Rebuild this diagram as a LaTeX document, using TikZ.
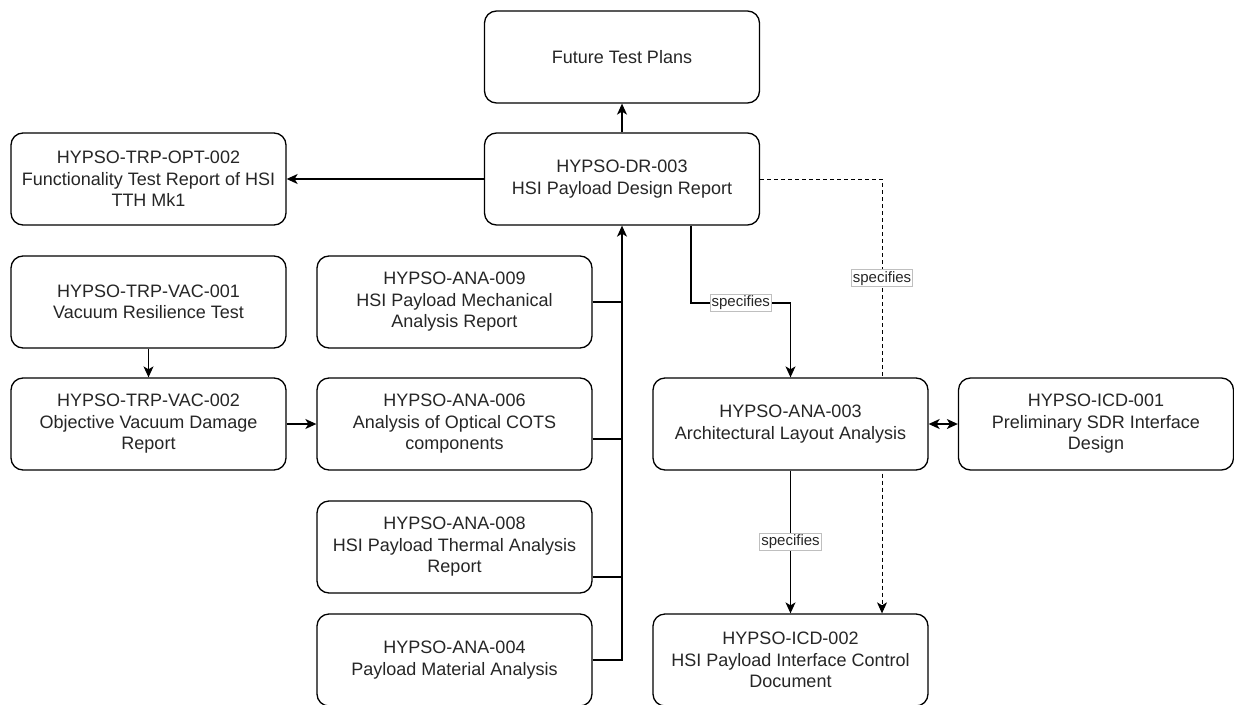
\documentclass[tikz,border=0pt]{standalone}
\usepackage{fontspec}
\setmainfont{Liberation Sans}
\usetikzlibrary{arrows.meta}

\begin{document}
\begin{tikzpicture}[x=1pt, y=-1pt, >={Stealth[length=11pt,width=10pt,inset=3pt]},
    doc/.style={draw, line width=1.3pt, rounded corners=12pt, fill=white, minimum width=275pt, minimum height=92pt, align=center, text=black!85, font=\fontsize{18}{21.5}\selectfont},
    link/.style={line width=1.3pt},
    tag/.style={draw=black!25, solid, line width=0.8pt, fill=white, inner sep=1.5pt, text=black!85, font=\fontsize{15}{16}\selectfont}]
        \useasboundingbox (0,0) rectangle (1234,704);
        \clip (0,0) rectangle (1234,704);
        \fill[white] (0,0) rectangle (1234,704);

        % nodes
        \node[doc] (FTP) at (622,57) {Future Test Plans};
        \node[doc] (DR) at (622,179) {HYPSO-DR-003\\HSI Payload Design Report};
        \node[doc] (OPT) at (148.5,179) {HYPSO-TRP-OPT-002\\Functionality Test Report of HSI\\TTH Mk1};
        \node[doc] (VAC1) at (148.5,302) {HYPSO-TRP-VAC-001\\Vacuum Resilience Test};
        \node[doc] (VAC2) at (148.5,424) {HYPSO-TRP-VAC-002\\Objective Vacuum Damage\\Report};
        \node[doc] (ANA9) at (454.5,302) {HYPSO-ANA-009\\HSI Payload Mechanical\\Analysis Report};
        \node[doc] (ANA6) at (454.5,424) {HYPSO-ANA-006\\Analysis of Optical COTS\\components};
        \node[doc] (ANA8) at (454.5,547) {HYPSO-ANA-008\\HSI Payload Thermal Analysis\\Report};
        \node[doc] (ANA4) at (454.5,660) {HYPSO-ANA-004\\Payload Material Analysis};
        \node[doc] (ANA3) at (790.5,424) {HYPSO-ANA-003\\Architectural Layout Analysis};
        \node[doc] (ICD1) at (1096,424) {HYPSO-ICD-001\\Preliminary SDR Interface\\Design};
        \node[doc] (ICD2) at (790.5,660) {HYPSO-ICD-002\\HSI Payload Interface Control\\Document};
        \coordinate (bend) at (691,303);
        \coordinate (spec) at (882,424);

        % straight arrows
        \draw[link,->] (DR) -- (FTP);
        \draw[link,->] (DR) -- (OPT);
        \draw[link,->] (VAC1) -- (VAC2);
        \draw[link,->] (VAC2) -- (ANA6);
        \draw[link,<->] (ANA3) -- (ICD1);

        % analysis bus into the design report
        \draw[link,->] (ANA4.east) -| (DR.south);
        \draw[link] (ANA9.east) -- (ANA9.east -| DR.south);
        \draw[link] ([yshift=-15pt]ANA6.east) -- ([yshift=-15pt]ANA6.east -| DR.south);
        \draw[link] ([yshift=-30pt]ANA8.east) -- ([yshift=-30pt]ANA8.east -| DR.south);

        % specifies links
        \draw[link,->] (DR.south -| bend) |- node[tag, pos=0.75] {specifies} (ANA3.north |- bend) -- (ANA3.north);
        \draw[link,->] (ANA3) -- node[tag] {specifies} (ICD2);
        \draw[line width=1pt, dash pattern=on 4pt off 3pt] (DR.east) -| node[tag, pos=0.75] {specifies} (spec |- ANA3.north);
        \draw[line width=1pt, dash pattern=on 4pt off 3pt, ->] ([yshift=-3pt]spec |- ANA3.south) -- (spec |- ICD2.north);
    \end{tikzpicture}
\end{document}
